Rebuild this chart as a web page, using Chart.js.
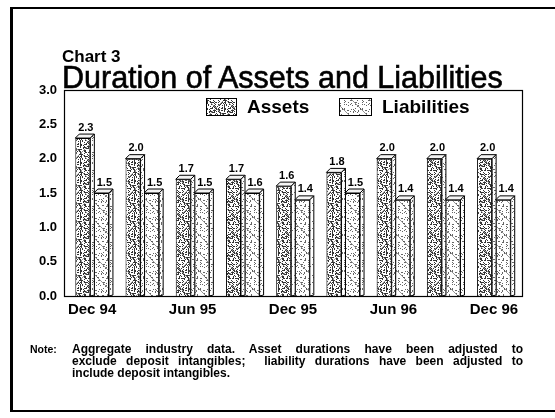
<!DOCTYPE html>
<html>
<head>
<meta charset="utf-8">
<script src="https://cdn.jsdelivr.net/npm/chart.js@4/dist/chart.umd.min.js"></script>
<style>
  body { margin: 0; background: #fff; }
  #wrap { position: relative; width: 555px; height: 418px; overflow: hidden; font-family: "Liberation Sans", Arial, sans-serif; color: #000; }
  #grafico { position: absolute; left: 0; top: 0; }
  .txt { position: absolute; white-space: nowrap; }
  #chartNum { left: 62px; top: 47px; font-size: 17px; font-weight: bold; }
  #chartTitle { left: 62px; top: 60px; font-size: 30.5px; -webkit-text-stroke: 0.6px #000; }
  #noteTag { left: 30px; top: 343px; font-size: 10.5px; font-weight: bold; }
  .linha { position: absolute; left: 72px; width: 451px; font-size: 12px; font-weight: bold; white-space: nowrap; }
  .just { text-align: justify; text-align-last: justify; }
  .frameL { position: absolute; left: 10px; top: 7px; width: 3px; height: 405px; background: #000; }
  .frameT { position: absolute; left: 10px; top: 7px; width: 545px; height: 2px; background: #000; }
  .frameB { position: absolute; left: 10px; top: 410px; width: 545px; height: 2px; background: #000; }
</style>
</head>
<body>
<div id="wrap">
  <canvas id="grafico" width="555" height="418"></canvas>
  <div class="frameL"></div>
  <div class="frameT"></div>
  <div class="frameB"></div>
  <div id="chartNum" class="txt">Chart 3</div>
  <div id="chartTitle" class="txt">Duration of Assets and Liabilities</div>
  <div id="noteTag" class="txt">Note:</div>
  <div class="linha just" style="top:342px">Aggregate industry data. Asset durations have been adjusted to</div>
  <div class="linha just" style="top:354px">exclude deposit intangibles;&nbsp; liability durations have been adjusted to</div>
  <div class="linha" style="top:366px">include deposit intangibles.</div>
</div>
<script>
var trimestres = ["Dec 94", "Mar 95", "Jun 95", "Sep 95", "Dec 95", "Mar 96", "Jun 96", "Sep 96", "Dec 96"];
var ativos = [2.3, 2.0, 1.7, 1.7, 1.6, 1.8, 2.0, 2.0, 2.0];
var passivos = [1.5, 1.5, 1.5, 1.5, 1.4, 1.5, 1.4, 1.4, 1.4];
var rotulosAtivos = ["2.3", "2.0", "1.7", "1.7", "1.6", "1.8", "2.0", "2.0", "2.0"];
var rotulosPassivos = ["1.5", "1.5", "1.5", "1.6", "1.4", "1.5", "1.4", "1.4", "1.4"];
var ticksY = [0, 0.5, 1.0, 1.5, 2.0, 2.5, 3.0];

var PROF = 4; // profundidade 3D

// textura pontilhada
function textura(densidade, cor, diagonais) {
    var c = document.createElement("canvas");
    c.width = 18; c.height = 18;
    var g = c.getContext("2d");
    g.fillStyle = "#fff";
    g.fillRect(0, 0, 18, 18);
    g.fillStyle = cor;
    for (var x = 0; x < 18; x++) {
        for (var y = 0; y < 18; y++) {
            var h = ((x * 7 + y * 13) * (x + 3) * (y + 5) + x * y) % 29;
            if (h < densidade) g.fillRect(x, y, 1, 1);
        }
    }
    g.strokeStyle = "rgba(60,60,60,0.55)";
    g.lineWidth = 1;
    diagonais.forEach(function (d) {
        g.beginPath();
        if (d == "\\") { g.moveTo(0, 0); g.lineTo(18, 18); }
        else { g.moveTo(18, 0); g.lineTo(0, 18); }
        g.stroke();
    });
    return g.createPattern(c, "repeat");
}

var ctx = document.getElementById("grafico").getContext("2d");
var padraoAtivos = textura(11, "#333", ["\\", "/"]);
var padraoPassivos = textura(5, "#666", ["\\"]);
var padraoLado = textura(4, "#666", []);

var plugin3d = {
    id: "efeito3d",
    afterDatasetsDraw: function (chart) {
        var c = chart.ctx;
        c.save();
        c.strokeStyle = "#000";
        c.lineWidth = 1;
        chart.data.datasets.forEach(function (ds, i) {
            var meta = chart.getDatasetMeta(i);
            var rot = i == 0 ? rotulosAtivos : rotulosPassivos;
            meta.data.forEach(function (el, j) {
                var esq = el.x - el.width / 2, dir = el.x + el.width / 2;
                // topo
                c.beginPath();
                c.moveTo(esq, el.y);
                c.lineTo(esq + PROF, el.y - PROF);
                c.lineTo(dir + PROF, el.y - PROF);
                c.lineTo(dir, el.y);
                c.closePath();
                c.fillStyle = "#f4f4f4";
                c.fill();
                c.stroke();
                // lado
                c.beginPath();
                c.moveTo(dir, el.y);
                c.lineTo(dir + PROF, el.y - PROF);
                c.lineTo(dir + PROF, el.base - 1);
                c.lineTo(dir, el.base);
                c.closePath();
                c.fillStyle = padraoLado;
                c.fill();
                c.stroke();
                // rotulo
                c.fillStyle = "#000";
                c.font = "bold 11px 'Liberation Sans', Arial, sans-serif";
                c.textAlign = "center";
                c.textBaseline = "bottom";
                c.fillText(rot[j], el.x + PROF / 2 + 1, el.y - PROF - 1);
            });
        });
        c.restore();
    },
    afterDraw: function (chart) {
        var c = chart.ctx, a = chart.chartArea;
        c.save();
        // moldura do grafico
        c.strokeStyle = "#000";
        c.lineWidth = 1.2;
        c.strokeRect(a.left - 3 + 0.5, a.top + 0.5, a.right - a.left + 6, a.bottom - a.top);
        // legenda
        c.font = "bold 19px 'Liberation Sans', Arial, sans-serif";
        c.textBaseline = "middle";
        c.textAlign = "left";
        var yl = a.top + 17;
        c.lineWidth = 1;
        c.fillStyle = padraoAtivos;
        c.fillRect(206, yl - 9, 30, 18);
        c.strokeRect(206.5, yl - 8.5, 30, 17);
        c.fillStyle = "#000";
        c.fillText("Assets", 247, yl + 1);
        c.fillStyle = padraoPassivos;
        c.fillRect(339, yl - 9, 32, 18);
        c.strokeRect(339.5, yl - 8.5, 32, 17);
        c.fillStyle = "#000";
        c.fillText("Liabilities", 382, yl + 1);
        c.restore();
    }
};

new Chart(ctx, {
    type: "bar",
    data: {
        labels: trimestres,
        datasets: [{
            label: "Assets",
            data: ativos,
            backgroundColor: padraoAtivos,
            borderColor: "#000",
            borderWidth: 1,
            categoryPercentage: 0.74,
            barPercentage: 0.81
        },
        {
            label: "Liabilities",
            data: passivos,
            backgroundColor: padraoPassivos,
            borderColor: "#000",
            borderWidth: 1,
            categoryPercentage: 0.74,
            barPercentage: 0.81
        }]
    },
    options: {
        responsive: false,
        animation: false,
        layout: { padding: { top: 90, right: 36, bottom: 92, left: 0 } },
        plugins: { legend: { display: false }, tooltip: { enabled: false } },
        scales: {
            x: {
                grid: { display: false, drawTicks: false },
                border: { display: false },
                afterFit: function (s) { s.height = 30; },
                ticks: {
                    autoSkip: false,
                    maxRotation: 0,
                    padding: 5,
                    color: "#000",
                    font: { family: "'Liberation Sans', Arial, sans-serif", size: 15, weight: "bold" },
                    callback: function (v, i) { return i % 2 == 0 ? trimestres[i] : ""; }
                }
            },
            y: {
                min: 0,
                max: 3,
                grid: { display: false, drawTicks: false },
                border: { display: false },
                afterFit: function (s) { s.width = 67; },
                afterBuildTicks: function (s) { s.ticks = ticksY.map(function (v) { return { value: v }; }); },
                ticks: {
                    padding: 10,
                    color: "#000",
                    font: { family: "'Liberation Sans', Arial, sans-serif", size: 13, weight: "bold" },
                    callback: function (v) { return v.toFixed(1); }
                }
            }
        }
    },
    plugins: [plugin3d]
});
</script>
</body>
</html>
